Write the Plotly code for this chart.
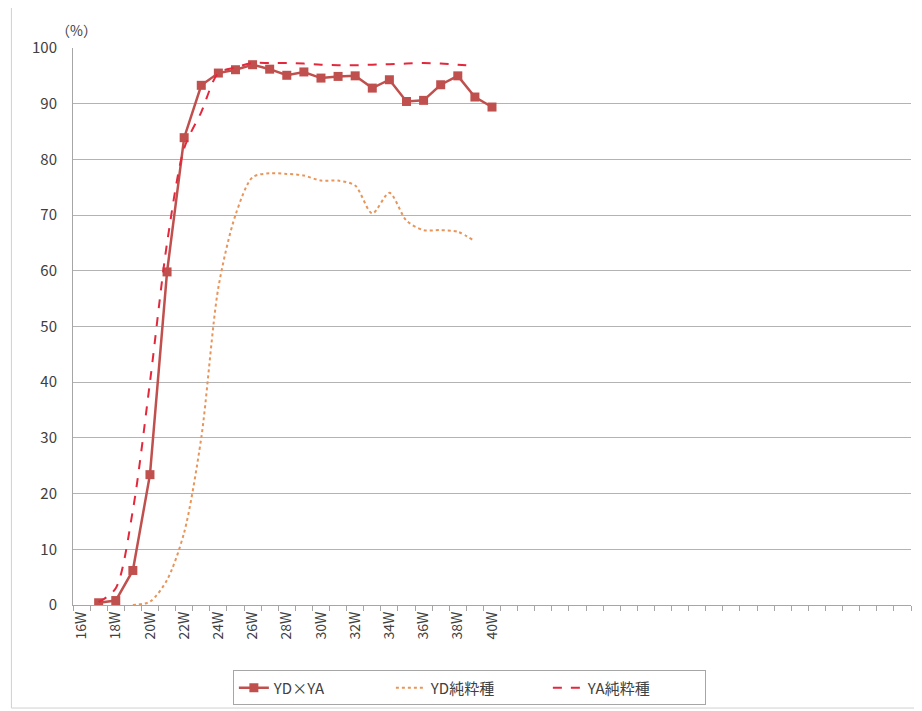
import plotly.graph_objects as go

# ---- data ----
weeks = ["16W", "17W", "18W", "19W", "20W", "21W", "22W", "23W", "24W", "25W",
         "26W", "27W", "28W", "29W", "30W", "31W", "32W", "33W", "34W", "35W",
         "36W", "37W", "38W", "39W", "40W"]
# empty categories to the right of the data (axis continues without labels)
extra_weeks = [f"{w}W" for w in range(41, 65)]

yd_x_ya = [None, 0.4, 0.8, 6.2, 23.4, 59.8, 83.9, 93.3, 95.5, 96.1,
           97.0, 96.2, 95.1, 95.7, 94.6, 94.9, 95.0, 92.8, 94.3, 90.4,
           90.6, 93.4, 95.0, 91.2, 89.4]
yd_pure = [None, None, None, 0.0, 0.6, 4.5, 13.0, 30.0, 57.0, 70.0,
           76.8, 77.5, 77.4, 77.1, 76.2, 76.2, 75.3, 70.3, 74.0, 69.0,
           67.3, 67.3, 67.0, 65.3, None]
ya_pure = [None, 0.5, 3.0, 17.0, 40.0, 65.0, 82.0, 88.5, 95.5, 96.5,
           97.3, 97.3, 97.3, 97.2, 97.0, 96.9, 96.9, 97.0, 97.1, 97.2,
           97.3, 97.2, 97.0, 96.8, None]

all_cats = weeks + extra_weeks
tick_text = [c if (i % 2 == 0 and c in weeks) else "" for i, c in enumerate(all_cats)]

FONT = "Noto Sans CJK JP"

fig = go.Figure()
fig.add_trace(go.Scatter(
    x=weeks, y=yd_x_ya, name="YD×YA", mode="lines+markers",
    line=dict(color="#C0504D", width=2.5),
    marker=dict(symbol="square", size=9, color="#C0504D"),
))
fig.add_trace(go.Scatter(
    x=weeks, y=yd_pure, name="YD純粋種", mode="lines",
    line=dict(color="#E8955A", width=2, dash="dot", shape="spline", smoothing=0.8),
))
fig.add_trace(go.Scatter(
    x=weeks, y=ya_pure, name="YA純粋種", mode="lines",
    line=dict(color="#E4283C", width=2, dash="dash", shape="spline", smoothing=0.8),
))

# page body has an 8px margin, so the figure is sized/offset to compensate
fig.update_layout(
    width=914, height=703,
    margin=dict(l=65, r=11, t=40, b=106, autoexpand=False),
    paper_bgcolor="white", plot_bgcolor="white",
    font=dict(family=FONT, size=14, color="#404040"),
    showlegend=True,
    legend=dict(
        orientation="h", x=0.473, xanchor="center", y=-0.149, yanchor="middle",
        bordercolor="#A6A6A6", borderwidth=1, bgcolor="white",
        font=dict(family=FONT, size=15, color="#404040"),
        entrywidth=112, entrywidthmode="pixels",
    ),
    xaxis=dict(
        type="category", categoryorder="array", categoryarray=all_cats,
        range=[-0.5, len(all_cats) - 0.5],
        tickmode="array", tickvals=all_cats, ticktext=tick_text,
        tickson="boundaries", ticks="outside", ticklen=5, tickcolor="#A6A6A6",
        tickangle=-90, tickfont=dict(size=14, color="#404040"),
        showline=True, linecolor="#A6A6A6", linewidth=1,
        showgrid=False, zeroline=False,
    ),
    yaxis=dict(
        range=[0, 100], dtick=10, tick0=0,
        showgrid=True, gridcolor="#B3B3B3", gridwidth=1,
        showline=True, linecolor="#A6A6A6", linewidth=1,
        ticks="", tickfont=dict(size=15, color="#404040"),
        ticklabelstandoff=12,
        zeroline=False,
    ),
    annotations=[dict(
        text="（%）", xref="paper", yref="paper", x=0.004, y=1.032,
        xanchor="center", yanchor="middle", showarrow=False,
        font=dict(family=FONT, size=14, color="#404040"),
    )],
    shapes=[dict(
        type="rect", xref="paper", yref="paper",
        x0=-0.0735, x1=1.018, y0=-0.185, y1=1.0754,
        line=dict(color="#D0D0D0", width=1), fillcolor="rgba(0,0,0,0)", layer="below",
    )],
)

fig.write_html("out.html")
